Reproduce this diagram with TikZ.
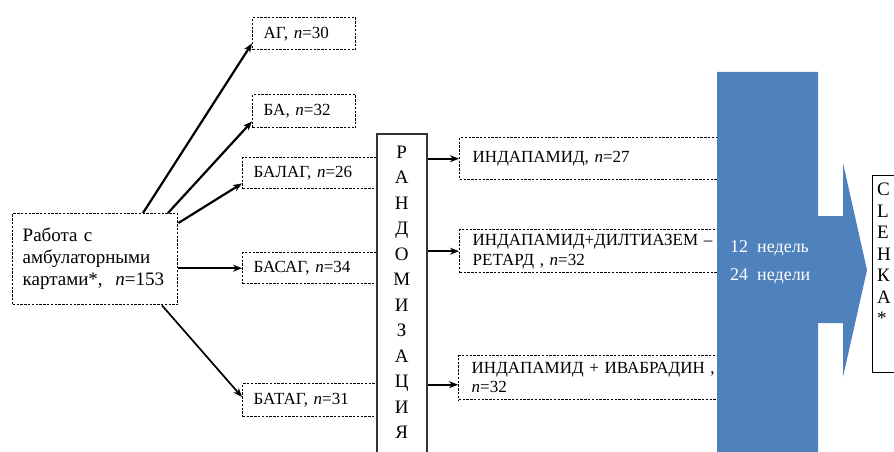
\documentclass[tikz,border=0pt]{standalone}
\usepackage{fontspec}
\setmainfont{Liberation Serif}
\usetikzlibrary{arrows.meta}
\definecolor{bluebar}{HTML}{4F81BD}
\begin{document}
\begin{tikzpicture}[x=1pt,y=-1pt,
  dotbox/.style={draw, line width=1.4pt, dash pattern=on 2.4pt off 1.4pt,
    anchor=north west, inner xsep=11pt, inner ysep=0pt, align=left,
    font=\fontsize{17}{19}\selectfont},
  arr/.style={-{Stealth[length=9pt,width=7pt]}, line width=2.2pt},
  bluetxt/.style={anchor=base west, text=white, inner sep=0pt,
    font=\fontsize{18}{20}\selectfont},
]
\clip (0,0) rectangle (894,452);
\useasboundingbox (0,0) rectangle (894,452);

% source box
\node[dotbox, font=\fontsize{19}{22}\selectfont, text width=145pt,
  inner xsep=10pt, minimum height=91pt] (src) at (12,213)
  {Работа с\\амбулаторными\\картами*, \ \textit{n}=153};

% group boxes
\node[dotbox, text width=81pt, minimum height=32pt] (ag) at (252,17) {АГ, \textit{n}=30};
\node[dotbox, text width=81pt, minimum height=33pt] (ba) at (252,94) {БА, \textit{n}=32};
\node[dotbox, text width=113pt, minimum height=31pt] (balag) at (242,157) {БАЛАГ, \textit{n}=26};
\node[dotbox, text width=113pt, minimum height=31pt] (basag) at (242,252) {БАСАГ, \textit{n}=34};
\node[dotbox, text width=113pt, minimum height=33pt] (batag) at (242,383) {БАТАГ, \textit{n}=31};

% arrows from source
\draw[arr] ([xshift=131pt]src.north west) -- ([yshift=7pt]ag.south west);
\draw[arr] ([xshift=156pt]src.north west) -- ([yshift=7pt]ba.south west);
\draw[arr] ([yshift=-10pt]src.north east) -- ([yshift=6pt]balag.south west);
\draw[arr] (src.east |- basag.west) -- (basag.west);
\draw[arr, line width=1.7pt] ([xshift=150pt]src.south west) -- ([yshift=-14pt]batag.north west);

% randomisation box
\node[draw=black!80, line width=1.5pt, fill=white, anchor=north west,
  minimum width=50pt, minimum height=330pt] (rbox) at (376,133) {};
\node[anchor=north, align=center, inner sep=0pt,
  font=\fontsize{19}{25.5}\selectfont] (rtxt) at ([yshift=-12.5pt]rbox.north)
  {Р\\А\\Н\\Д\\О\\М\\И\\З\\А\\Ц\\И\\Я};

% treatment boxes
\node[dotbox, inner xsep=13pt, text width=255pt, minimum height=42pt] (tr1) at (459,137)
  {ИНДАПАМИД, \textit{n}=27};
\node[dotbox, inner xsep=13pt, text width=255pt, minimum height=43pt,
  font=\fontsize{17}{20}\selectfont] (tr2) at (459,229)
  {ИНДАПАМИД+ДИЛТИАЗЕМ –\\РЕТАРД , \textit{n}=32};
\node[dotbox, inner xsep=13pt, text width=255pt, minimum height=44pt] (tr3) at (458,355)
  {ИНДАПАМИД + ИВАБРАДИН ,\\\textit{n}=32};

\coordinate (t3in) at ([yshift=-7pt]tr3.west);
\draw[arr, line width=1.9pt] (rbox.east |- tr1.west) -- (tr1.west);
\draw[arr, line width=1.9pt] (rbox.east |- tr2.west) -- (tr2.west);
\draw[arr, line width=1.9pt] (rbox.east |- t3in) -- (t3in);

% blue bar with arrow
\fill[bluebar] (717,72) -- (818,72) -- (818,216) -- (843,216) -- (843,163)
  -- (867,270) -- (843,377) -- (843,323) -- (818,323) -- (818,470)
  -- (717,470) -- cycle;
\node[bluetxt] (w12) at (730,252) {12\ \ недель};
\node[bluetxt] (w24) at (730,280) {24\ \ недели};

% outcome box
\node[draw, line width=1pt, anchor=north west, minimum width=40pt,
  minimum height=197pt] (out) at (872,175) {};
\node[anchor=north west, align=left, inner sep=0pt,
  font=\fontsize{19}{21.5}\selectfont] (outtxt) at (877,183)
  {С\\L\\Е\\Н\\К\\А\\*};
\end{tikzpicture}
\end{document}
